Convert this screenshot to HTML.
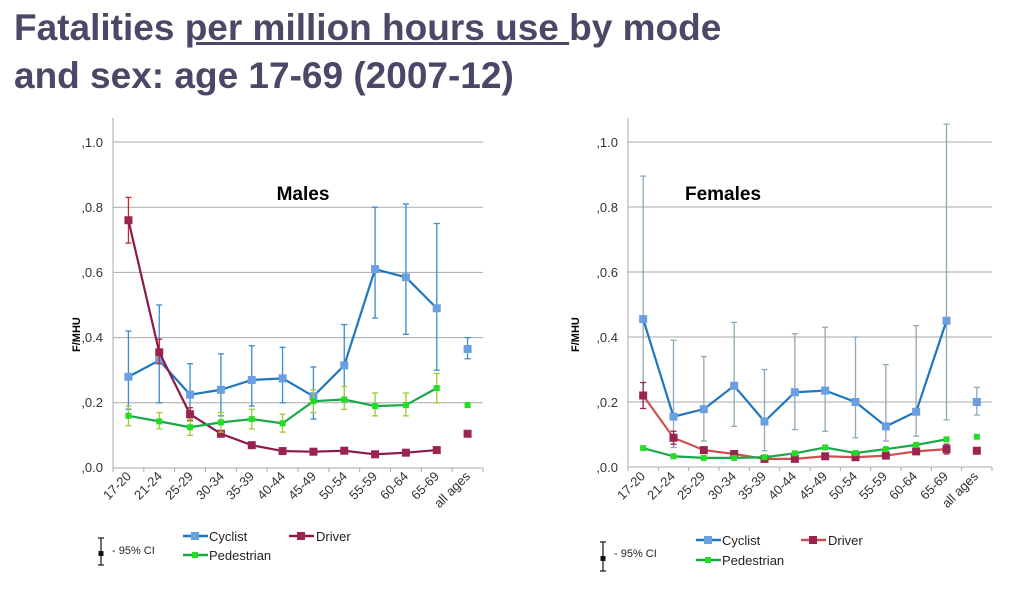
<!DOCTYPE html>
<html><head><meta charset="utf-8"><style>
body{margin:0;background:#fff;width:1023px;height:605px;overflow:hidden;font-family:"Liberation Sans",sans-serif}
.t{position:absolute;left:14px;font-weight:bold;font-size:37px;color:#4c4766;line-height:46px;white-space:nowrap}
</style></head><body>
<div class="t" style="top:5px">Fatalities <span style="text-decoration:underline">per million hours use </span>by mode</div>
<div class="t" style="top:53px">and sex: age 17-69 (2007-12)</div>
<svg id="s" width="1023" height="605" style="position:absolute;left:0;top:0" font-family="Liberation Sans,sans-serif">
<g font-size="13" fill="#333" text-anchor="end">
<text x="103" y="147">,1.0</text><text x="103" y="212">,0.8</text><text x="103" y="277">,0.6</text><text x="103" y="342">,0.4</text><text x="103" y="407">,0.2</text><text x="103" y="472">,0.0</text>
<text x="618" y="147">,1.0</text><text x="618" y="212">,0.8</text><text x="618" y="277">,0.6</text><text x="618" y="342">,0.4</text><text x="618" y="407">,0.2</text><text x="618" y="472">,0.0</text>
</g>
<text x="0" y="0" font-size="11" font-weight="bold" transform="translate(80,352) rotate(-90)">F/MHU</text>
<text x="0" y="0" font-size="11" font-weight="bold" transform="translate(579,352) rotate(-90)">F/MHU</text>
<text x="303" y="200" font-size="19" font-weight="bold" text-anchor="middle">Males</text>
<text x="723" y="200" font-size="19" font-weight="bold" text-anchor="middle">Females</text>
<g id="xl" font-size="13" fill="#333" text-anchor="end">
<text transform="translate(132,477) rotate(-45)">17-20</text><text transform="translate(163,477) rotate(-45)">21-24</text><text transform="translate(194,477) rotate(-45)">25-29</text><text transform="translate(225,477) rotate(-45)">30-34</text><text transform="translate(255,477) rotate(-45)">35-39</text><text transform="translate(286,477) rotate(-45)">40-44</text><text transform="translate(317,477) rotate(-45)">45-49</text><text transform="translate(348,477) rotate(-45)">50-54</text><text transform="translate(378,477) rotate(-45)">55-59</text><text transform="translate(409,477) rotate(-45)">60-64</text><text transform="translate(440,477) rotate(-45)">65-69</text><text transform="translate(471,477) rotate(-45)">all ages</text>
<text transform="translate(646,477) rotate(-45)">17-20</text><text transform="translate(676,477) rotate(-45)">21-24</text><text transform="translate(706,477) rotate(-45)">25-29</text><text transform="translate(737,477) rotate(-45)">30-34</text><text transform="translate(767,477) rotate(-45)">35-39</text><text transform="translate(797,477) rotate(-45)">40-44</text><text transform="translate(828,477) rotate(-45)">45-49</text><text transform="translate(858,477) rotate(-45)">50-54</text><text transform="translate(888,477) rotate(-45)">55-59</text><text transform="translate(918,477) rotate(-45)">60-64</text><text transform="translate(949,477) rotate(-45)">65-69</text><text transform="translate(979,477) rotate(-45)">all ages</text>
</g>
<g font-size="13" fill="#222">
<text x="209" y="541">Cyclist</text><text x="316" y="541">Driver</text><text x="209" y="560">Pedestrian</text>
<text x="112" y="554" font-size="11">- 95% CI</text>
<text x="722" y="545">Cyclist</text><text x="828" y="545">Driver</text><text x="722" y="565">Pedestrian</text>
<text x="614" y="557" font-size="11">- 95% CI</text>
</g>
<g id="g"></g>
</svg>
<script>
var g=document.getElementById('g'),h='';
function L(x1,y1,x2,y2,c,w){h+='<line x1="'+x1+'" y1="'+y1+'" x2="'+x2+'" y2="'+y2+'" stroke="'+c+'" stroke-width="'+w+'"/>';}
function R(x,y,s,c){h+='<rect x="'+(x-s/2)+'" y="'+(y-s/2)+'" width="'+s+'" height="'+s+'" fill="'+c+'"/>';}
function chart(x0,x1,y1,y0,d){
 var cw=(x1-x0)/12,sc=(y0-y1);
 function Y(v){return y0-v*sc;}
 for(var i=1;i<=5;i++)L(x0,Y(i*0.2),x1,Y(i*0.2),'#aaa',1);
 L(x0,118,x0,y0,'#aaa',1);L(x0,y0,x1,y0,'#aaa',1);
 for(var i=0;i<=12;i++)L(x0+i*cw,y0,x0+i*cw,y0+4,'#aaa',1);
 d.forEach(function(s){
  var p=[];
  s.v.forEach(function(v,i){var x=x0+cw*(i+.5);
   if(s.ci&&s.ci[i]){var a=Y(s.ci[i][0]),b=Y(s.ci[i][1]);L(x,a,x,b,s.ec,1.3);L(x-3,a,x+3,a,s.ec,1.3);L(x-3,b,x+3,b,s.ec,1.3);}
   if(i<11)p.push(x+','+Y(v));});
  h+='<polyline points="'+p.join(' ')+'" fill="none" stroke="'+s.lc+'" stroke-width="2.2"/>';
  s.v.forEach(function(v,i){R(x0+cw*(i+.5),Y(v),s.ms,s.mc);});
 });
}
chart(113,483,142,468,[
 {v:[.28,.33,.225,.24,.27,.275,.22,.315,.61,.585,.49,.365],lc:'#1f77c0',mc:'#6a9fe0',ms:8,ec:'#3a8ad0',
  ci:[[.18,.42],[.2,.5],[.17,.32],[.16,.35],[.19,.375],[.2,.37],[.15,.31],[.21,.44],[.46,.8],[.41,.81],[.3,.75],[.335,.4]]},
 {v:[.76,.355,.165,.105,.07,.052,.05,.053,.042,.047,.055,.105],lc:'#8b1a4a',mc:'#9b2352',ms:8,ec:'#c02a2a',
  ci:[[.69,.83],[.32,.395],[.145,.185],[.1,.115]]},
 {v:[.16,.143,.125,.14,.15,.137,.205,.21,.19,.193,.245,.193],lc:'#1aa84a',mc:'#22dd22',ms:6,ec:'#9acd32',
  ci:[[.13,.19],[.12,.17],[.1,.15],[.11,.17],[.12,.18],[.11,.165],[.17,.24],[.18,.25],[.16,.23],[.16,.23],[.2,.29]]}
]);
chart(628,992,142,467,[
 {v:[.455,.155,.178,.25,.14,.23,.235,.2,.125,.17,.45,.2],lc:'#1f77c0',mc:'#6a9fe0',ms:8,ec:'#8fa9b8',
  ci:[[.2,.895],[.06,.39],[.08,.34],[.125,.445],[.05,.3],[.115,.41],[.11,.43],[.09,.4],[.08,.315],[.095,.435],[.145,1.055],[.16,.245]]},
 {v:[.22,.09,.052,.04,.025,.025,.033,.03,.035,.048,.055,.05],lc:'#d0504d',mc:'#9b2352',ms:8,ec:'#9b2352',
  ci:[[.18,.26],[.07,.11],null,null,null,null,null,null,null,null,[.04,.07]]},
 {v:[.058,.033,.028,.028,.03,.042,.06,.043,.055,.068,.085,.093],lc:'#1aa84a',mc:'#22dd22',ms:6,ec:'#9acd32'}
]);
function leg(x,y,lc,mc,ms){L(x,y,x+25,y,lc,2.5);R(x+12,y,ms,mc);}
leg(183,536,'#1f77c0','#6a9fe0',8);leg(289,536,'#8b1a4a','#9b2352',8);leg(183,555,'#1aa84a','#22dd22',6);
leg(696,540,'#1f77c0','#6a9fe0',8);leg(801,540,'#d0504d','#9b2352',8);leg(696,560,'#1aa84a','#22dd22',6);
function ci(x,a,b){L(x,a,x,b,'#222',1.3);L(x-3,a,x+3,a,'#222',1.3);L(x-3,b,x+3,b,'#222',1.3);R(x,(a+b)/2+2,5,'#111');}
ci(101,538,565);ci(603,542,571);
g.innerHTML=h;
</script>
</body></html>
